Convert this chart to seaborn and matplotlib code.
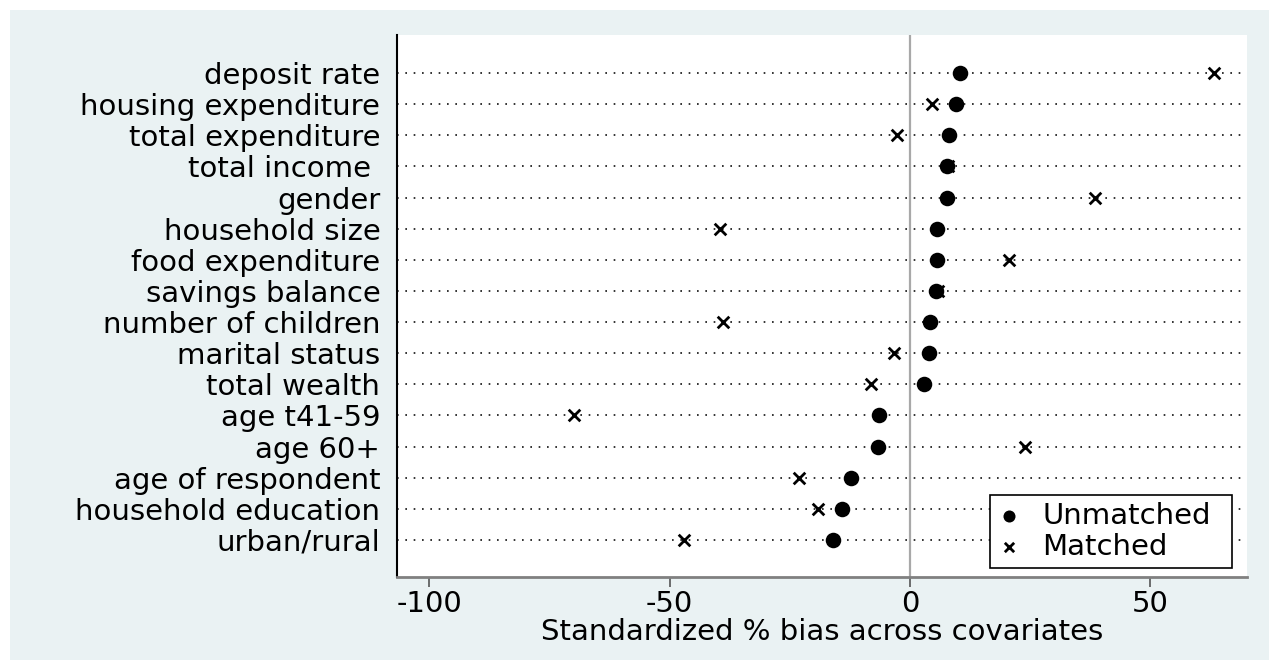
import numpy as np
import pandas as pd
import seaborn as sns
import matplotlib.pyplot as plt
from matplotlib.patches import Rectangle

# covariates, top to bottom as in the chart
variables = ['deposit rate', 'housing expenditure', 'total expenditure', 'total income ',
             'gender', 'household size', 'food expenditure', 'savings balance',
             'number of children', 'marital status', 'total wealth', 'age t41-59',
             'age 60+', 'age of respondent', 'household education', 'urban/rural']
unmatched = [10.3, 9.5, 8.1, 7.8, 7.6, 5.7, 5.7, 5.5, 4.2, 4.0, 3.0, -6.4, -6.6, -12.2, -14.2, -16.0]
matched = [63.2, 4.6, -2.8, 8.0, 38.5, -39.6, 20.7, 5.9, -38.8, -3.4, -8.2, -69.9, 23.9, -23.0, -19.2, -47.1]
xticks = [-100, -50, 0, 50]

df = pd.DataFrame({'variable': variables, 'Unmatched': unmatched, 'Matched': matched})

sns.set_style('white')
plt.rcParams['font.family'] = ['DejaVu Sans']
plt.rcParams['axes.unicode_minus'] = False
plt.rcParams['text.color'] = 'black'
plt.rcParams['axes.labelcolor'] = 'black'
plt.rcParams['xtick.color'] = 'black'
plt.rcParams['ytick.color'] = 'black'

fig = plt.figure(figsize=(12.69, 6.6), dpi=100, facecolor='white')
# Stata-like graph region
fig.patches.append(Rectangle((10 / 1269, 0), 1 - 10 / 1269, 1 - 10 / 660,
                             transform=fig.transFigure, facecolor='#EAF2F3',
                             edgecolor='none', zorder=-10))
ax = fig.add_axes([397 / 1269, 1 - 577 / 660, 850 / 1269, 542 / 660])
ax.set_facecolor('white')

# dotted row lines
for i in range(len(variables)):
    ax.axhline(i, color='#111111', lw=1.2, linestyle=(0, (1, 4)), zorder=1)
ax.axvline(0, color='#a8a8a8', lw=1.6, zorder=2)

sns.scatterplot(data=df, x='Unmatched', y='variable', ax=ax, marker='o', s=125,
                color='black', edgecolor='black', linewidth=0, label='Unmatched', zorder=4)
sns.scatterplot(data=df, x='Matched', y='variable', ax=ax, marker='x', s=70,
                color='black', linewidth=2, label='Matched', zorder=3)

ax.set_ylim(len(variables) - 1 + 1.19, -1.22)
ax.set_xlim(-106.7, 70.1)
ax.set_xticks(xticks)
ax.set_xticklabels([str(t) for t in xticks])
ax.set_xlabel('Standardized % bias across covariates', fontsize=21, labelpad=0)
ax.set_ylabel('')
ax.tick_params(axis='y', length=0, pad=12, labelsize=21)
ax.tick_params(axis='x', length=7, width=1.2, color='#555555', pad=2, labelsize=21,
               direction='out', bottom=True)

for side in ['top', 'right']:
    ax.spines[side].set_visible(False)
ax.spines['left'].set_color('black')
ax.spines['left'].set_linewidth(1.5)
ax.spines['bottom'].set_color('#808080')
ax.spines['bottom'].set_linewidth(2)

leg = ax.legend(loc='lower left', mode='expand',
                bbox_to_anchor=((990 - 397) / 850, 9 / 542, 242 / 850, 74 / 542),
                fontsize=21, frameon=True, fancybox=False, edgecolor='black',
                framealpha=1, borderpad=0.25, labelspacing=0.1,
                handlelength=0.8, handletextpad=0.75, borderaxespad=0)
leg.get_frame().set_linewidth(1.2)
leg.legend_handles[0].set_sizes([75])
leg.legend_handles[1].set_sizes([45])

fig.savefig('out.png', dpi=100)
